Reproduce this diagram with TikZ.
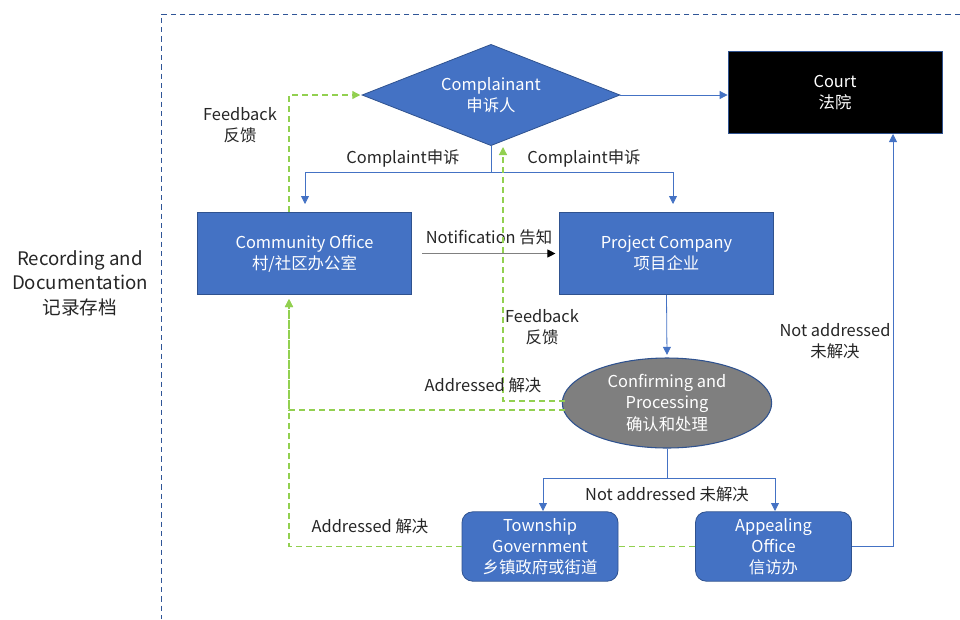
\documentclass[tikz,border=0pt]{standalone}
\usepackage{fontspec}
\setmainfont{Noto Sans CJK SC}
\usetikzlibrary{shapes.geometric,arrows.meta,calc}
\definecolor{boxblue}{HTML}{4472C4}
\definecolor{edgeblue}{HTML}{2F528F}
\definecolor{fbgreen}{HTML}{92D050}
\definecolor{labelgray}{HTML}{262626}
\definecolor{framecol}{HTML}{2F5597}
\definecolor{ellgray}{HTML}{7F7F7F}
\definecolor{notegray}{HTML}{808080}
\tikzset{
  boxnode/.style={draw=edgeblue, fill=boxblue, text=white, align=center, inner sep=0pt,
    minimum width=160pt, minimum height=62pt, line width=0.6pt},
  roundbox/.style={boxnode, rounded corners=8pt, minimum width=117pt, minimum height=52pt},
  dianode/.style={shape=diamond, aspect=2.55, draw=edgeblue, fill=boxblue, text=white, align=center, inner sep=0pt,
    minimum width=193.5pt, minimum height=76pt, line width=0.6pt},
  ellnode/.style={shape=ellipse, draw=edgeblue, fill=ellgray, text=white, align=center, inner sep=0pt,
    minimum width=157pt, minimum height=67.5pt, line width=0.8pt},
  conn/.style={draw=boxblue, line width=0.6pt},
  flow/.style={conn, -{Triangle[width=6pt,length=6pt]}},
  fbline/.style={draw=fbgreen, line width=0.9pt, dash pattern=on 4.5pt off 3pt},
  fbflow/.style={fbline, -{Triangle[width=6pt,length=6pt]}},
  lbl/.style={text=labelgray, align=center, inner sep=0pt},
  framedash/.style={draw=framecol, line width=0.7pt, dash pattern=on 4pt off 3pt}
}
\begin{document}
\begin{tikzpicture}[x=0.75pt,y=-0.75pt, font=\fontsize{12.3}{16}\selectfont]
\useasboundingbox (0,0) rectangle (960,619);
% frame
\draw[framedash] (960,14) -- (161,14) -- (161,619);
\node[lbl, font=\fontsize{14}{18.5}\selectfont] (rec) at (80,283) {Recording and\\Documentation\\记录存档};

% nodes
\node[dianode] (comp) at (491,95) {Complainant\\申诉人};
\node[boxnode, fill=black, minimum width=160.5pt, minimum height=61pt] (court) at (835,92.5) {Court\\法院};
\node[boxnode] (comm) at (304.5,253.5) {Community Office\\村/社区办公室};
\node[boxnode] (proj) at (666.5,253.5) {Project Company\\项目企业};
\node[ellnode] (conf) at (667,403) {Confirming and\\Processing\\确认和处理};
\node[roundbox] (town) at (540,546.5) {Township\\Government\\乡镇政府或街道};
\node[roundbox] (appeal) at (773.5,546.5) {Appealing\\Office\\信访办};

% coordinates
\coordinate (split) at (491,172);
\coordinate (commin) at (305,204);
\coordinate (projin) at (673,204);
\coordinate (fbup) at (503,147);
\coordinate (commback) at (289,299);
\coordinate (split2) at (667,478);
\coordinate (townin) at (543,511);
\coordinate (appin) at (775,511);
\coordinate (courtin) at (893,134);

% complaint
\draw[flow] (comp.east) -- (comp.east -| court.west);
\draw[flow] (comp.south) -- (split) -| (commin);
\draw[flow] (split) -| (projin);
\node[lbl] (c1) at (403,158) {Complaint申诉};
\node[lbl] (c2) at (584,158) {Complaint申诉};

% notification
\draw[draw=notegray, line width=0.7pt, -{Triangle[width=6pt,length=6pt,color=black]}, shorten <=8pt, shorten >=3pt] (comm.east) -- (proj.west);
\node[lbl] (nt) at (489,237) {Notification 告知};

% project -> confirm
\draw[flow, shorten >=2pt] (proj.south) -- (conf.north);

% feedback from confirm to complainant
\draw[fbflow] ($(conf.west)+(3,-2)$) -| (fbup);
\node[lbl] (fb2) at (542,327) {Feedback\\反馈};
% addressed to community office
\draw[fbflow] ($(conf.west)+(3,7)$) -| (commback);
\node[lbl] (ad1) at (483,385) {Addressed 解决};
% community office feedback to complainant
\draw[fbflow, shorten >=1pt] (comm.north -| commback) |- (comp.west);
\node[lbl] (fb1) at (240,125) {Feedback\\反馈};

% confirm -> township / appealing
\draw[conn] (conf.south) -- (split2);
\draw[flow] (split2) -| (townin);
\draw[flow] (split2) -| (appin);
\node[lbl] (na1) at (667,494) {Not addressed 未解决};

% township / appealing addressed
\draw[fbline] (appeal.west) -- (town.east);
\draw[fbflow] (town.west) -| (commback);
\node[lbl] (ad2) at (370,526) {Addressed 解决};

% appealing -> court
\draw[flow] (appeal.east) -| (courtin);
\node[lbl] (na2) at (835,341) {Not addressed\\未解决};
\end{tikzpicture}
\end{document}
